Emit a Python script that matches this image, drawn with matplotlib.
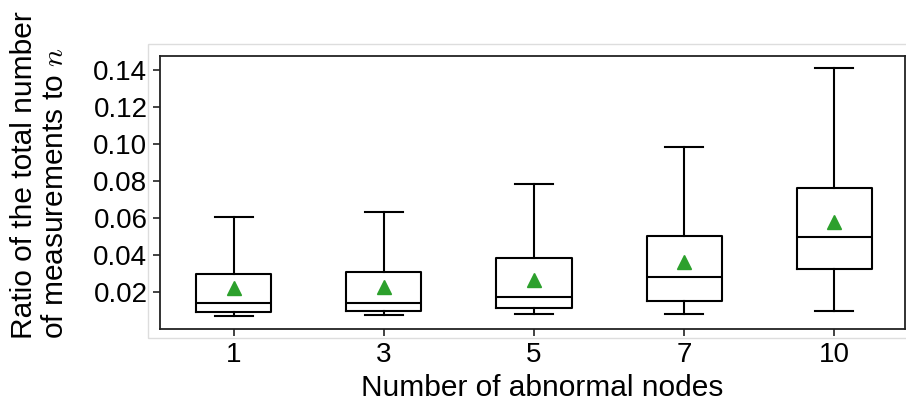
import numpy as np
import matplotlib.pyplot as plt
from matplotlib.patches import Rectangle

plt.rcParams['font.family'] = ['Liberation Sans', 'DejaVu Sans']
plt.rcParams['mathtext.fontset'] = 'cm'

# summary statistics per number of abnormal nodes
nodes = ['1', '3', '5', '7', '10']
whislo = [0.0072, 0.0076, 0.0081, 0.0081, 0.0099]
q1 = [0.0090, 0.0096, 0.0114, 0.0151, 0.0324]
med = [0.0139, 0.0140, 0.0173, 0.0280, 0.0497]
q3 = [0.0297, 0.0310, 0.0384, 0.0503, 0.0762]
whishi = [0.0605, 0.0632, 0.0784, 0.0984, 0.1410]
mean = [0.0220, 0.0227, 0.0265, 0.0362, 0.0578]

stats = []
for i in range(len(nodes)):
    stats.append(dict(label=nodes[i], whislo=whislo[i], q1=q1[i], med=med[i],
                      q3=q3[i], whishi=whishi[i], mean=mean[i], fliers=[]))

fig = plt.figure(figsize=(9.06, 4.03), dpi=100)

# faint outer frame behind the axes
fig.patches.append(Rectangle((148 / 906, 1 - 338 / 403), 760 / 906, 294 / 403,
                             transform=fig.transFigure, fill=False,
                             edgecolor='#dddddd', linewidth=1.0, zorder=0))

ax = fig.add_axes([160 / 906, 1 - 329 / 403, 745 / 906, 273 / 403])

line = dict(color='black', linewidth=1.5)
ax.bxp(stats, widths=0.5, showmeans=True, showfliers=False,
       boxprops=line, whiskerprops=line, capprops=line, medianprops=line,
       meanprops=dict(marker='^', markerfacecolor='#2ca02c',
                      markeredgecolor='#2ca02c', markersize=10))

ax.set_xlim(0.507, 5.473)
ax.set_ylim(0.0, 0.1476)
ax.set_yticks([0.02, 0.04, 0.06, 0.08, 0.10, 0.12, 0.14])
ax.set_yticklabels(['0.02', '0.04', '0.06', '0.08', '0.10', '0.12', '0.14'])
ax.tick_params(labelsize=20, length=5, width=1.2, color='#222222', pad=4)

for s in ax.spines.values():
    s.set_color('#222222')
    s.set_linewidth(1.3)

ax.set_xlabel('Number of abnormal nodes', fontsize=21.5, labelpad=5)
ax.xaxis.label.set_x(0.513)
ax.set_ylabel('Ratio of the total number\nof measurements to $n$', fontsize=21.5,
              linespacing=1.15, multialignment='left')
ax.yaxis.set_label_coords(-0.122, 0.565)

fig.savefig('out.png', dpi=100)
